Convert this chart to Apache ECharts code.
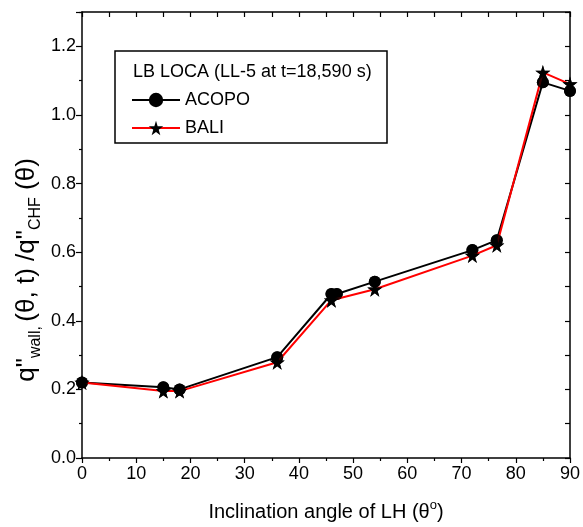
<!DOCTYPE html>
<html>
<head>
<meta charset="utf-8">
<script src="https://cdn.jsdelivr.net/npm/echarts@6/dist/echarts.min.js"></script>
<style>html,body{margin:0;padding:0;background:#fff}#c{width:583px;height:527px}</style>
</head>
<body>
<div id="c"></div>
<script>
var angleAcopo = [0, 15, 18, 36, 46, 47, 54, 72, 76.5, 85, 90];
var valAcopo   = [0.22, 0.206, 0.2, 0.294, 0.478, 0.478, 0.514, 0.606, 0.635, 1.095, 1.07];
var angleBali  = [0, 15, 18, 36, 46, 54, 72, 76.5, 85, 90];
var valBali    = [0.22, 0.195, 0.195, 0.279, 0.46, 0.492, 0.59, 0.62, 1.124, 1.09];
var xTicks = [0, 10, 20, 30, 40, 50, 60, 70, 80, 90];
var yTicks = [0.0, 0.2, 0.4, 0.6, 0.8, 1.0, 1.2];
var legendTitle = 'LB LOCA (LL-5 at t=18,590 s)';
var seriesNames = ['ACOPO', 'BALI'];

function pairs(xs, ys){ return xs.map(function(x,i){ return [x, ys[i]]; }); }
var STAR = 'path://M50,0 L61,35 L98,35 L68,57 L79,91 L50,70 L21,91 L32,57 L2,35 L39,35 Z';
var FONT = 'Liberation Sans';

var chart = echarts.init(document.getElementById('c'), null, {renderer:'canvas'});
var axisLine = {show:true, onZero:false, lineStyle:{color:'#000', width:1.5}};
chart.setOption({
  animation:false,
  backgroundColor:'#fff',
  grid:{left:82, right:8, top:12, bottom:67},
  textStyle:{fontFamily:FONT},
  xAxis:[{
    type:'value', min:0, max:90, interval:10, position:'bottom',
    axisLine:axisLine,
    axisTick:{show:true, length:5, inside:false, lineStyle:{color:'#000', width:1.2}},
    minorTick:{show:true, splitNumber:2, length:3, lineStyle:{color:'#000', width:1.2}},
    splitLine:{show:false},
    axisLabel:{color:'#000', fontSize:18, fontFamily:FONT, margin:7,
      formatter:function(v){ return xTicks.indexOf(v)>=0 ? String(v) : ''; }},
    name:'Inclination angle of LH (θ{sup|o})',
    nameLocation:'middle', nameGap:41,
    nameTextStyle:{color:'#000', fontSize:20, fontFamily:FONT,
      rich:{sup:{fontSize:13, fontFamily:FONT, color:'#000', padding:[0,0,13,0]}}}
  },{
    type:'value', min:0, max:90, interval:5, position:'top',
    axisLine:axisLine,
    axisTick:{show:true, inside:true, length:5, lineStyle:{color:'#000', width:1.2}},
    axisLabel:{show:false}, splitLine:{show:false}
  }],
  yAxis:[{
    type:'value', min:0, max:1.3, interval:0.2, position:'left',
    axisLine:axisLine,
    axisTick:{show:true, length:6, inside:false, lineStyle:{color:'#000', width:1.2}},
    minorTick:{show:true, splitNumber:2, length:3, lineStyle:{color:'#000', width:1.2}},
    splitLine:{show:false},
    axisLabel:{color:'#000', fontSize:18, fontFamily:FONT, margin:6,
      formatter:function(v){
        for (var i=0;i<yTicks.length;i++){ if (Math.abs(yTicks[i]-v)<1e-6) return yTicks[i].toFixed(1); }
        return '';
      }}
  },{
    type:'value', min:0, max:1.3, interval:0.1, position:'right',
    axisLine:axisLine,
    axisTick:{show:true, inside:true, length:5, lineStyle:{color:'#000', width:1.2}},
    axisLabel:{show:false}, splitLine:{show:false}
  }],
  legend:{
    orient:'vertical', left:126, top:86, itemGap:10, itemWidth:48, itemHeight:18,
    textStyle:{color:'#000', fontSize:18, fontFamily:FONT},
    data:seriesNames
  },
  graphic:[
    {type:'rect', shape:{x:115, y:51, width:272, height:92}, style:{fill:'none', stroke:'#000', lineWidth:1.5}, z:10},
    {type:'text', x:133, y:72, style:{text:legendTitle, fontSize:18, fontFamily:FONT, fill:'#000', verticalAlign:'middle'}, z:10},
    {type:'text', x:27, y:270, rotation:Math.PI/2,
     style:{text:'{m|q"}{s|wall, }{m|(θ, t) /q"}{s|CHF}{m| (θ)}', align:'center', verticalAlign:'middle', fill:'#000',
       rich:{
         m:{fontSize:26, fontFamily:FONT, fill:'#000', lineHeight:32},
         s:{fontSize:16, fontFamily:FONT, fill:'#000', lineHeight:16, padding:[18,0,0,0]}
       }}, z:10}
  ],
  series:[
    {name:seriesNames[0], type:'line', xAxisIndex:0, yAxisIndex:0, data:pairs(angleAcopo, valAcopo),
     symbol:'circle', symbolSize:12, itemStyle:{color:'#000'}, lineStyle:{color:'#000', width:2}, z:2},
    {name:seriesNames[1], type:'line', xAxisIndex:0, yAxisIndex:0, data:pairs(angleBali, valBali),
     symbol:STAR, symbolSize:15, itemStyle:{color:'#000'}, lineStyle:{color:'#ff0000', width:2}, z:3},
    {name:'acopoMarks', type:'scatter', data:pairs(angleAcopo, valAcopo), symbol:'circle', symbolSize:12,
     itemStyle:{color:'#000'}, z:4},
    {name:'baliMarks', type:'scatter', data:pairs(angleBali, valBali), symbol:STAR, symbolSize:15,
     itemStyle:{color:'#000'}, z:4}
  ]
});
</script>
</body>
</html>
